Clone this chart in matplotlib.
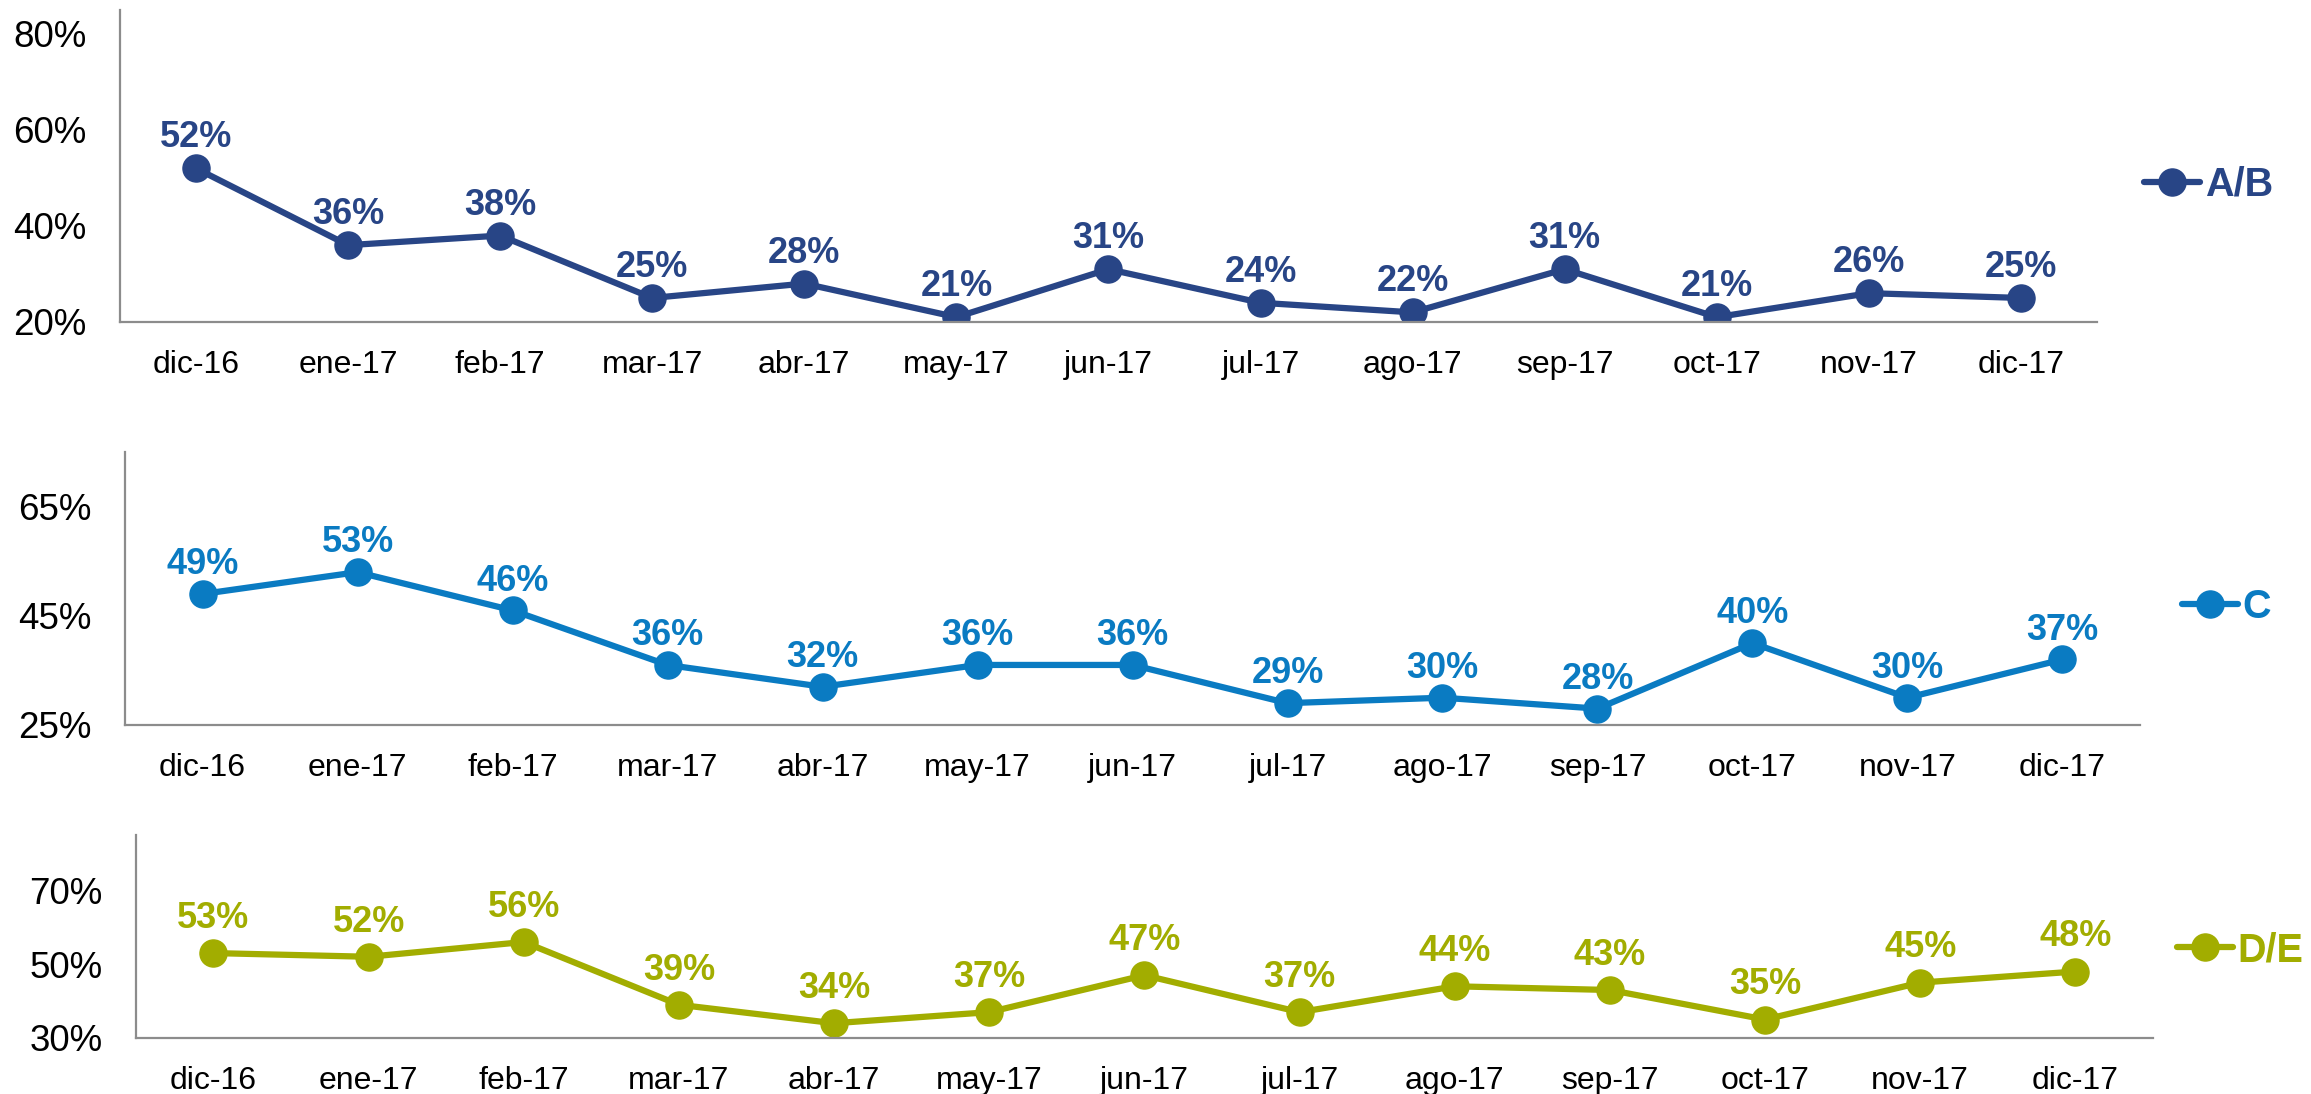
import matplotlib
matplotlib.use("Agg")
import matplotlib.pyplot as plt
from matplotlib.ticker import FixedLocator, FuncFormatter

plt.rcParams['font.family'] = ['Liberation Sans', 'DejaVu Sans']

months = ["dic-16", "ene-17", "feb-17", "mar-17", "abr-17", "may-17", "jun-17",
          "jul-17", "ago-17", "sep-17", "oct-17", "nov-17", "dic-17"]
ab_values = [52, 36, 38, 25, 28, 21, 31, 24, 22, 31, 21, 26, 25]
c_values = [49, 53, 46, 36, 32, 36, 36, 29, 30, 28, 40, 30, 37]
de_values = [53, 52, 56, 39, 34, 37, 47, 37, 44, 43, 35, 45, 48]
series_names = ["A/B", "C", "D/E"]
series_values = [ab_values, c_values, de_values]
series_colors = ["#284586", "#0A7BC2", "#A2AD00"]
y_ticks = [[20, 40, 60, 80], [25, 45, 65], [30, 50, 70]]
y_limits = [(20, 85), (25, 75), (30, 85)]

axes_rects = [
    [0.0519, 0.7057, 0.8555, 0.2852],
    [0.0541, 0.3373, 0.8719, 0.2495],
    [0.0588, 0.0512, 0.8728, 0.1856],
]
legend_anchors = [(1.024, 0.44), (1.021, 0.432), (1.012, 0.433)]
label_offsets = [22, 21, 25]

fig = plt.figure(figsize=(23.11, 10.94), dpi=100)
for i in range(3):
    ax = fig.add_axes(axes_rects[i])
    x = list(range(len(months)))
    vals = series_values[i]
    col = series_colors[i]
    ax.plot(x, vals, color=col, lw=4.5, marker='o', markersize=19.5,
            label=series_names[i], solid_capstyle='round')
    for xi, v in zip(x, vals):
        ax.annotate(f"{v}%", (xi, v), xytext=(0, label_offsets[i]),
                    textcoords='offset points', ha='center', va='center',
                    fontsize=26, fontweight='bold', color=col)
    ax.set_xlim(-0.5, len(months) - 0.5)
    ax.set_ylim(*y_limits[i])
    ax.set_xticks(x)
    ax.set_xticklabels(months, fontsize=23)
    ax.yaxis.set_major_locator(FixedLocator(y_ticks[i]))
    ax.yaxis.set_major_formatter(FuncFormatter(lambda v, p: f"{v:.0f}%"))
    ax.tick_params(axis='y', length=0, pad=24, labelsize=26.5)
    ax.tick_params(axis='x', length=0, pad=20)
    for s in ['top', 'right']:
        ax.spines[s].set_visible(False)
    for s in ['left', 'bottom']:
        ax.spines[s].set_color('#8C8C8C')
        ax.spines[s].set_linewidth(1.6)
    leg = ax.legend(loc='center left', bbox_to_anchor=legend_anchors[i],
                    frameon=False, borderpad=0, borderaxespad=0,
                    handlelength=1.4, handletextpad=0.12,
                    prop={'weight': 'bold', 'size': 28.5}, labelcolor='linecolor')

fig.savefig("out.png", dpi=100)
